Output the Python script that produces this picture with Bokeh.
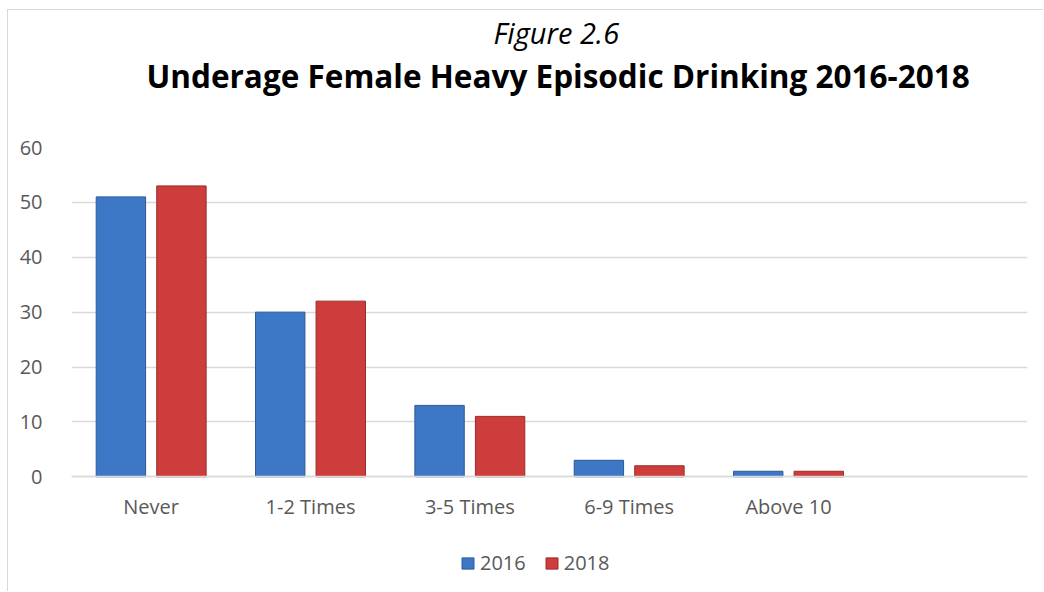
import numpy as np
from bokeh.plotting import figure
from bokeh.models import (ColumnDataSource, Range1d, FixedTicker, Title, Legend,
                          LegendItem)
from bokeh.embed import file_html
from bokeh.resources import INLINE

categories = ["Never", "1-2 Times", "3-5 Times", "6-9 Times", "Above 10"]
values_2016 = [51, 30, 13, 3, 1]
values_2018 = [53, 32, 11, 2, 1]
series_names = ["2016", "2018"]
y_ticks = [0, 10, 20, 30, 40, 50, 60]

FONT = "Open Sans"
GRID = "#d9d9d9"
TEXT = "#595959"

n_slots = len(categories) + 1  # an empty slot on the right, as in the original
centers = np.arange(len(categories)) + 0.5
source = ColumnDataSource(dict(
    x16=centers - 0.19, x18=centers + 0.19,
    v16=values_2016, v18=values_2018, cat=categories))

# the frame reaches down below the axis so that the legend can sit inside it
p = figure(width=1036, height=582, output_backend="svg", toolbar_location=None,
           title=None, margin=(9, 0, 0, 7),
           x_range=Range1d(0, n_slots), y_range=Range1d(-20, 60),
           min_border_left=63, min_border_right=17, min_border_top=136,
           min_border_bottom=6)
p.styles = {"border-left": "1px solid #d9d9d9", "border-top": "1px solid #d9d9d9"}
p.outline_line_color = None
p.background_fill_color = "white"

r16 = p.vbar(x="x16", top="v16", width=0.31, source=source,
             fill_color="#3d78c6", line_color="#2b5a98", line_width=1)
r18 = p.vbar(x="x18", top="v18", width=0.31, source=source,
             fill_color="#cc3d3b", line_color="#9a2b29", line_width=1)

# axes
p.yaxis.ticker = FixedTicker(ticks=y_ticks)
p.yaxis.axis_line_color = None
p.yaxis.major_tick_line_color = None
p.yaxis.minor_tick_line_color = None
p.yaxis.major_label_text_font = FONT
p.yaxis.major_label_text_font_size = "20px"
p.yaxis.major_label_text_color = TEXT
p.yaxis.major_label_standoff = 23

p.xaxis.fixed_location = 0
p.xaxis.ticker = FixedTicker(ticks=list(centers))
p.xaxis.major_label_overrides = {float(c): lab for c, lab in zip(centers, categories)}
p.xaxis.axis_line_color = GRID
p.xaxis.axis_line_width = 1.5
p.xaxis.major_tick_line_color = None
p.xaxis.minor_tick_line_color = None
p.xaxis.major_label_text_font = FONT
p.xaxis.major_label_text_font_size = "20px"
p.xaxis.major_label_text_color = TEXT
p.xaxis.major_label_standoff = 10

p.xgrid.grid_line_color = None
p.ygrid.grid_line_color = GRID
p.ygrid.grid_line_width = 1.5

# titles (added nearest-first): a thin spacer, the main title, then the figure number
spacer = Title(text=" ", text_font_size="1px", standoff=48)
main_title = Title(text="Underage Female Heavy Episodic Drinking 2016-2018",
                   text_font=FONT, text_font_style="bold", text_font_size="31.5px",
                   text_color="black", align="left", offset=75, standoff=0)
fig_title = Title(text="Figure 2.6", text_font=FONT, text_font_style="italic",
                  text_font_size="29px", text_color="black", align="left",
                  offset=422, standoff=0)
p.add_layout(spacer, "above")
p.add_layout(main_title, "above")
p.add_layout(fig_title, "above")

legend = Legend(items=[LegendItem(label=series_names[0], renderers=[r16]),
                       LegendItem(label=series_names[1], renderers=[r18])],
                orientation="horizontal", location=(389, 10),
                label_text_font=FONT, label_text_font_size="20px",
                label_text_color=TEXT, glyph_width=15, glyph_height=14,
                label_standoff=5, spacing=18, padding=0, margin=0,
                border_line_color=None, background_fill_alpha=0)
p.add_layout(legend, "center")

open("out.html", "w").write(file_html(p, INLINE))
